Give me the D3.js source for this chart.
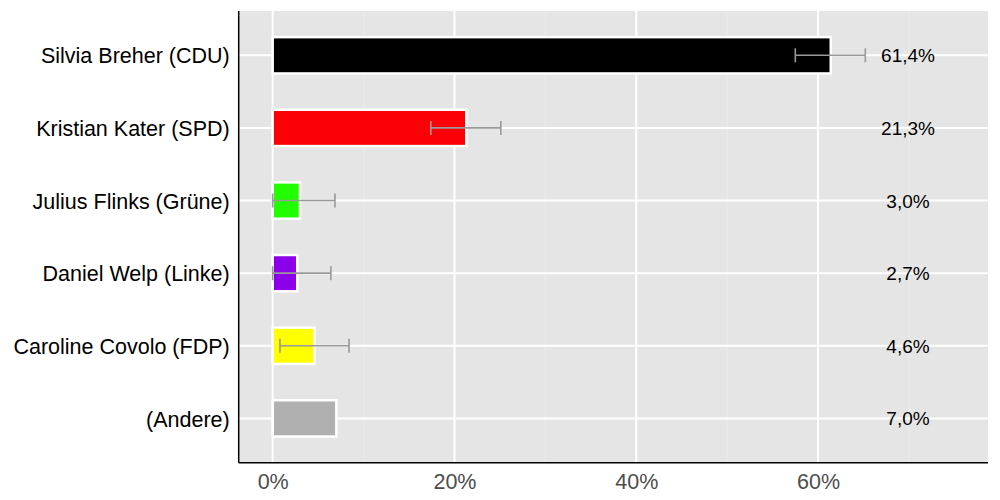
<!DOCTYPE html>
<html>
<head>
<meta charset="utf-8">
<script src="https://cdn.jsdelivr.net/npm/d3@7"></script>
<style>
  html, body { margin: 0; padding: 0; background: #fff; }
  svg { display: block; }
  text { font-family: "Liberation Sans", Arial, Helvetica, sans-serif; }
</style>
</head>
<body>
<svg id="chart" width="1000" height="500"></svg>
<script>
const candidates = ["Silvia Breher (CDU)", "Kristian Kater (SPD)", "Julius Flinks (Grüne)", "Daniel Welp (Linke)", "Caroline Covolo (FDP)", "(Andere)"];
const shares = [61.4, 21.3, 3.0, 2.7, 4.6, 7.0];
const errLow = [57.5, 17.4, 0.0, 0.0, 0.8, null];
const errHigh = [65.2, 25.1, 6.85, 6.4, 8.4, null];
const colors = ["#000000", "#fb0006", "#22fe00", "#8c00ea", "#ffff00", "#b0b0b0"];
const valueLabels = ["61,4%", "21,3%", "3,0%", "2,7%", "4,6%", "7,0%"];
const majorTicks = [0, 20, 40, 60];
const minorTicks = [10, 30, 50, 70];
const labelPos = 69.9;

const data = candidates.map((c, i) => ({
  name: c, value: shares[i], lo: errLow[i], hi: errHigh[i], color: colors[i], label: valueLabels[i]
}));

const svg = d3.select("#chart");
const pLeft = 238.7, pRight = 988, pTop = 11, pBottom = 462.7;

const x = d3.scaleLinear().domain([-3.74, 78.7]).range([pLeft, pRight]);
const y = d3.scaleBand().domain(candidates).range([pTop, pBottom]).paddingInner(0.5).paddingOuter(0.36);
const yc = d => y(d) + y.bandwidth() / 2;

// panel background
svg.append("rect").attr("x", pLeft).attr("y", pTop).attr("width", pRight - pLeft).attr("height", pBottom - pTop).attr("fill", "#e5e5e5");

// minor grid
svg.append("g").selectAll("line").data(minorTicks).join("line")
  .attr("x1", d => x(d)).attr("x2", d => x(d)).attr("y1", pTop).attr("y2", pBottom)
  .attr("stroke", "#ebebeb").attr("stroke-width", 1);
// major grid
svg.append("g").selectAll("line").data(majorTicks).join("line")
  .attr("x1", d => x(d)).attr("x2", d => x(d)).attr("y1", pTop).attr("y2", pBottom)
  .attr("stroke", "#ffffff").attr("stroke-width", 2);
svg.append("g").selectAll("line").data(candidates).join("line")
  .attr("x1", pLeft).attr("x2", pRight).attr("y1", d => yc(d)).attr("y2", d => yc(d))
  .attr("stroke", "#ffffff").attr("stroke-width", 2);

// bars
svg.append("g").selectAll("rect").data(data).join("rect")
  .attr("x", x(0)).attr("y", d => y(d.name))
  .attr("width", d => x(d.value) - x(0)).attr("height", y.bandwidth())
  .attr("fill", d => d.color).attr("stroke", "#ffffff").attr("stroke-width", 2.5);

// error bars
const eb = svg.append("g").selectAll("g").data(data.filter(d => d.lo !== null)).join("g")
  .attr("stroke", "#999999").attr("stroke-width", 1.6);
eb.append("line").attr("x1", d => x(d.lo)).attr("x2", d => x(d.hi)).attr("y1", d => yc(d.name)).attr("y2", d => yc(d.name));
eb.append("line").attr("x1", d => x(d.lo)).attr("x2", d => x(d.lo)).attr("y1", d => yc(d.name) - 7).attr("y2", d => yc(d.name) + 7);
eb.append("line").attr("x1", d => x(d.hi)).attr("x2", d => x(d.hi)).attr("y1", d => yc(d.name) - 7).attr("y2", d => yc(d.name) + 7);

// value labels
svg.append("g").selectAll("text").data(data).join("text")
  .attr("x", x(labelPos)).attr("y", d => yc(d.name)).attr("dy", "0.37em")
  .attr("text-anchor", "middle").attr("font-size", 19).attr("fill", "#000")
  .text(d => d.label);

// axes
const xAxis = d3.axisBottom(x).tickValues(majorTicks).tickFormat(d => d + "%").tickSize(0).tickPadding(11);
const gx = svg.append("g").attr("transform", `translate(0,${pBottom})`).call(xAxis);
gx.select(".domain").remove();
gx.selectAll("text").attr("font-size", 21.5).attr("fill", "#4d4d4d").attr("font-family", "Liberation Sans, Arial, sans-serif");

const yAxis = d3.axisLeft(y).tickSize(0).tickPadding(9);
const gy = svg.append("g").attr("transform", `translate(${pLeft},0)`).call(yAxis);
gy.select(".domain").remove();
gy.selectAll("text").attr("font-size", 21.5).attr("dy", "0.38em").attr("fill", "#000").attr("font-family", "Liberation Sans, Arial, sans-serif");

svg.append("line").attr("x1", pLeft).attr("x2", pLeft).attr("y1", pTop).attr("y2", pBottom).attr("stroke", "#000").attr("stroke-width", 1.5);
svg.append("line").attr("x1", pLeft).attr("x2", pRight).attr("y1", pBottom).attr("y2", pBottom).attr("stroke", "#000").attr("stroke-width", 1.5);
</script>
</body>
</html>
